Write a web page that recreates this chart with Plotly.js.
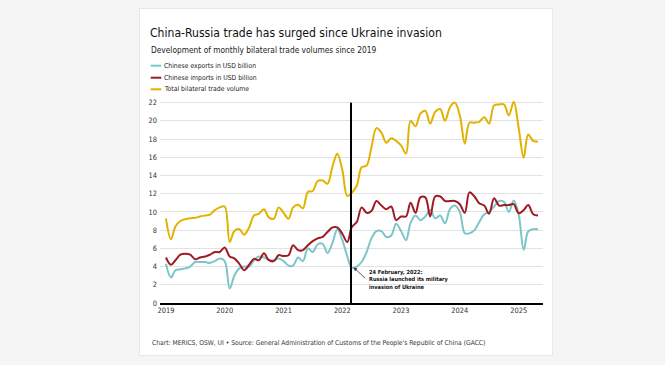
<!DOCTYPE html>
<html>
<head>
<meta charset="utf-8">
<script src="https://cdn.plot.ly/plotly-3.0.1.min.js"></script>
<style>
  html, body { margin:0; padding:0; background:#f5f5f5; }
  #card { position:absolute; left:139px; top:8px; width:414px; height:348px; background:#ffffff; border:1px solid #e8e8e8; box-sizing:border-box; }
  #chart { position:absolute; left:0; top:0; width:665px; height:365px; }
</style>
</head>
<body>
<div id="card"></div>
<div id="chart"></div>
<script>
// ---- data (monthly, starting January 2019) ----
const startYear = 2019;
const seriesNames = ["Chinese exports in USD billion", "Chinese imports in USD billion", "Total bilateral trade volume"];
const exportsUSD = [4.3,2.8,3.6,3.7,3.8,4.0,4.5,4.5,4.5,4.4,4.6,4.9,
  4.6,1.6,3.0,3.8,4.0,4.0,4.7,5.1,5.0,4.75,4.7,4.9,
  4.6,4.1,4.1,5.0,4.6,6.0,5.6,6.45,6.5,5.5,6.6,8.1,
  6.9,5.1,3.85,4.0,4.5,5.6,7.1,7.9,7.9,7.25,7.4,8.7,
  7.9,6.9,8.8,9.6,9.1,9.5,10.2,9.3,9.6,8.75,10.3,10.7,
  10.0,7.65,7.65,8.0,8.9,9.75,10.0,10.6,11.2,11.1,10.0,11.25,
  9.7,5.85,7.85,8.1,8.1];
const importsUSD = [5.0,4.2,4.7,5.3,5.4,5.3,4.8,5.0,5.1,5.3,5.6,5.6,
  6.1,5.1,4.9,4.3,3.6,4.2,4.85,4.7,5.45,4.7,4.6,5.25,
  5.15,5.25,6.35,5.8,5.8,6.35,6.8,7.1,7.25,7.8,8.3,8.3,
  7.6,6.7,8.35,8.9,10.5,9.9,10.1,11.2,10.7,10.3,10.6,9.1,
  9.5,9.5,11.0,9.9,11.6,11.6,9.5,11.7,11.7,11.2,11.2,11.2,
  10.85,9.9,12.15,11.7,10.95,10.7,9.8,11.5,10.7,10.75,10.75,10.85,
  9.85,10.2,10.75,9.75,9.6];
const totalUSD = [9.3,7.0,8.4,9.0,9.2,9.3,9.35,9.5,9.6,9.7,10.2,10.5,
  10.6,6.7,7.9,8.1,7.5,8.3,9.6,9.8,10.3,9.4,9.25,10.5,
  9.9,9.25,10.5,10.8,10.4,12.2,12.3,13.4,13.45,13.1,15.0,16.4,
  14.6,11.75,12.1,12.9,14.9,15.1,17.1,19.2,18.7,17.6,18.1,17.8,
  17.3,16.4,20.0,19.4,20.8,21.1,19.7,21.0,21.3,20.0,21.5,22.0,
  20.6,17.5,19.8,19.8,19.9,20.4,19.7,21.7,21.8,21.8,20.6,22.1,
  19.2,15.95,18.5,17.8,17.7];
const yearTicks = ["2019","2020","2021","2022","2023","2024","2025"];
const yTicks = [0,2,4,6,8,10,12,14,16,18,20,22];
const invasionDate = "2022-02-24";
const invasionLines = ["24 February, 2022:", "Russia launched its military", "invasion of Ukraine"];
const titleText = "China-Russia trade has surged since Ukraine invasion";
const subtitleText = "Development of monthly bilateral trade volumes since 2019";
const footerText = "Chart: MERICS, OSW, UI • Source: General Administration of Customs of the People's Republic of China (GACC)";

const months = exportsUSD.map((_, i) => {
  const y = startYear + Math.floor(i / 12);
  const m = (i % 12) + 1;
  return y + "-" + (m < 10 ? "0" + m : m) + "-01";
});

const colors = ["#7cc6c7", "#9e1b24", "#e2b200"];
const FONT = "'DejaVu Sans Condensed', 'Liberation Sans Narrow', Roboto, sans-serif";

// fit a font size so that text spans the target width (pixels)
const ctx = document.createElement("canvas").getContext("2d");
function fit(text, target, bold) {
  ctx.font = (bold ? "bold " : "") + "20px " + FONT;
  const w = ctx.measureText(text).width;
  return Math.round(20 * target / w * 10) / 10;
}
const titleSize = fit(titleText, 292);
const subSize = fit(subtitleText, 225);
const legSize = fit(seriesNames[0], 92);
const footSize = fit(footerText, 333);
const noteSize = fit(invasionLines[1], 79, true);
const tickSize = fit("2019", 17);

// layout geometry helpers (pixels -> paper)
const W = 665, H = 365, L = 160, R = 122, T = 99, B = 62;
const pw = W - L - R, ph = H - T - B;
const xp = px => (px - L) / pw;
const yp = py => (H - B - py) / ph;

const traces = [exportsUSD, importsUSD, totalUSD].map((vals, k) => ({
  x: months, y: vals, type: "scatter", mode: "lines", name: seriesNames[k],
  line: { color: colors[k], width: 2, shape: "spline", smoothing: 1 },
  hoverinfo: "x+y"
}));

const shapes = [
  { type: "line", xref: "x", yref: "y", x0: invasionDate, x1: invasionDate, y0: 0, y1: 22,
    line: { color: "#000000", width: 2 } }
];
const NOTE_INDEX = 2;
const annotations = [
  { xref: "paper", yref: "paper", x: xp(149), y: yp(50), xanchor: "left", yanchor: "middle",
    text: subtitleText, showarrow: false, font: { family: FONT, size: subSize, color: "#222" } },
  { xref: "paper", yref: "paper", x: xp(149.5), y: yp(343), xanchor: "left", yanchor: "middle",
    text: footerText, showarrow: false, font: { family: FONT, size: footSize, color: "#333" } },
  { xref: "paper", yref: "paper", x: xp(366.5), y: yp(279.5), xanchor: "left", yanchor: "middle", align: "left",
    text: "<b>" + invasionLines.join("<br>") + "</b>", showarrow: false,
    font: { family: FONT, size: noteSize, color: "#111" } },
  { xref: "x", yref: "y", x: "2022-03-12", y: 3.9, text: "", showarrow: true,
    ax: 13, ay: 12, arrowhead: 2, arrowsize: 0.9, arrowwidth: 0.8, arrowcolor: "#333", standoff: 0 }
];
// legend rows
[65.7, 77.7, 89.3].forEach((py, k) => {
  shapes.push({ type: "line", xref: "paper", yref: "paper", x0: xp(150.7), x1: xp(161.3), y0: yp(py), y1: yp(py),
    line: { color: colors[k], width: 2 } });
  annotations.push({ xref: "paper", yref: "paper", x: xp(161.5), y: yp(py), xanchor: "left", yanchor: "middle",
    text: seriesNames[k], showarrow: false, font: { family: FONT, size: legSize, color: "#222" } });
});

const layout = {
  width: W, height: H,
  margin: { l: L, r: R, t: T, b: B, pad: 0 },
  paper_bgcolor: "rgba(0,0,0,0)", plot_bgcolor: "rgba(0,0,0,0)",
  showlegend: false,
  title: { text: titleText, xref: "container", yref: "container", x: 150 / W, xanchor: "left",
    y: 1 - 32.5 / H, yanchor: "middle", font: { family: FONT, size: titleSize, color: "#111" } },
  xaxis: {
    type: "date", range: ["2018-11-25", "2025-06-01"],
    tickvals: yearTicks.map(y => y + "-01-01"), ticktext: yearTicks,
    showgrid: false, zeroline: false, showline: true, linecolor: "#000", linewidth: 1.5,
    ticks: "", tickfont: { family: FONT, size: tickSize, color: "#333" }
  },
  yaxis: {
    range: [0, 22.4], tickvals: yTicks, ticktext: yTicks.map(String),
    showgrid: true, gridcolor: "#e2e2e2", gridwidth: 1, zeroline: false, showline: false,
    ticks: "", ticklabelstandoff: 2, tickfont: { family: FONT, size: tickSize, color: "#333" }
  },
  shapes: shapes, annotations: annotations
};

Plotly.newPlot("chart", traces, layout, { displayModeBar: false, staticPlot: true }).then(gd => {
  // correct the bold note size from its rendered width
  const nodes = gd.querySelectorAll(".annotation-text");
  const node = nodes[NOTE_INDEX];
  if (node) {
    const w = node.getBBox().width;
    if (w > 0 && Math.abs(w - 79) > 1.5) {
      const upd = {};
      upd["annotations[" + NOTE_INDEX + "].font.size"] = Math.round(noteSize * 79 / w * 10) / 10;
      return Plotly.relayout(gd, upd);
    }
  }
});
</script>
</body>
</html>
